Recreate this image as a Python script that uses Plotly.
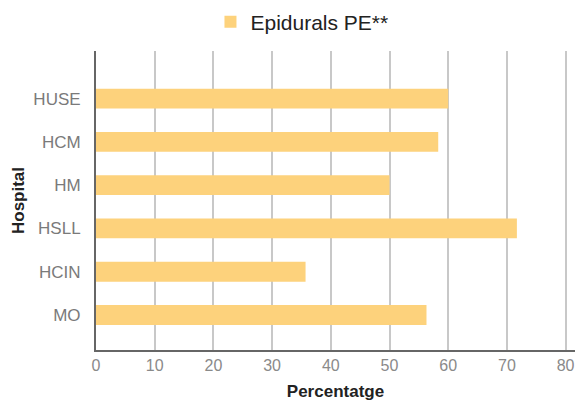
import plotly.graph_objects as go

hospitals = ["MO", "HCIN", "HSLL", "HM", "HCM", "HUSE"]
epidurals_pe = [56.3, 35.7, 71.7, 50.0, 58.3, 60.0]
series_name = "Epidurals PE**"
x_ticks = [0, 10, 20, 30, 40, 50, 60, 70, 80]

fig = go.Figure()
fig.add_trace(go.Bar(
    y=hospitals, x=epidurals_pe, orientation="h", name=series_name,
    marker=dict(color="#FDD27C", line=dict(width=0)), width=0.46,
    showlegend=True,
))

fig.update_layout(
    width=579, height=401,
    margin=dict(l=96, r=4, t=51, b=51, autoexpand=False),
    paper_bgcolor="white", plot_bgcolor="white",
    font=dict(family="Liberation Sans, Arial, sans-serif"),
    showlegend=True,
    legend=dict(orientation="h", x=0.43, xanchor="center", y=1.097, yref="paper",
                yanchor="middle", font=dict(size=21, color="#222"), itemwidth=30),
    xaxis=dict(range=[0, 81.6], tickvals=x_ticks, showgrid=True, gridcolor="#C8C8C8",
               gridwidth=1.5, zeroline=False, showline=True, linecolor="#666",
               linewidth=2, ticks="", automargin=True,
               tickfont=dict(size=16, color="#8A8A8A"),
               title=dict(text="<b>Percentatge</b>", font=dict(size=17, color="#222"), standoff=14)),
    yaxis=dict(range=[-0.81, 6.1], showgrid=False, showline=True, linecolor="#666",
               linewidth=2, ticks="", ticklabelstandoff=10, automargin=True,
               tickfont=dict(size=17, color="#7A7A7A"),
               title=dict(text="<b>Hospital</b>", font=dict(size=17, color="#222"), standoff=4)),
)

fig.write_html(
    "out.html",
    config={"displayModeBar": False},
    post_script="document.body.style.margin='0';document.body.style.overflow='hidden';",
)
